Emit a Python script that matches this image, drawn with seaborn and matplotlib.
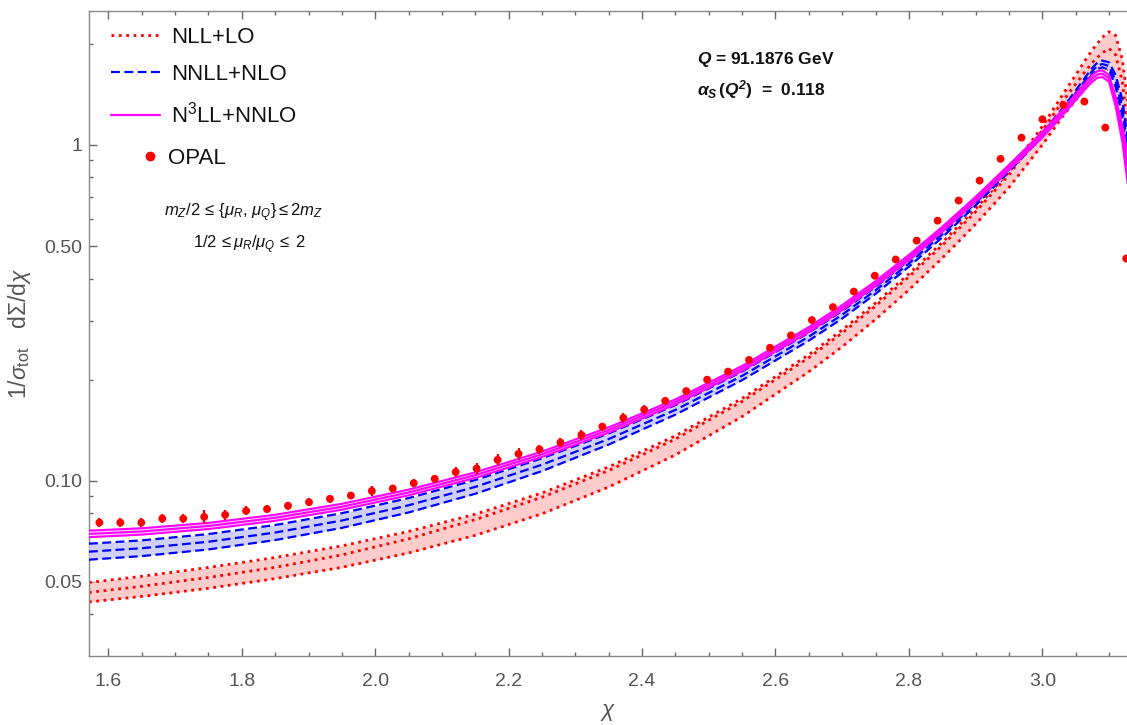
import numpy as np
import matplotlib
matplotlib.use("Agg")
import matplotlib.pyplot as plt
import seaborn as sns
from matplotlib.lines import Line2D
from matplotlib.ticker import FixedLocator, LogLocator, NullFormatter, MultipleLocator

# ---------------- data ----------------
chi_nodes = [1.5708, 1.65, 1.75, 1.85, 1.95, 2.05, 2.15, 2.25, 2.35, 2.45,
             2.55, 2.65, 2.70, 2.75, 2.80, 2.85, 2.90, 2.95, 3.00, 3.03,
             3.05, 3.065, 3.075, 3.083, 3.09, 3.10, 3.11, 3.12, 3.128]

# NLL+LO (red, dotted): upper / central / lower
nll_up = [0.04981, 0.05198, 0.05522, 0.05913, 0.06403, 0.07068, 0.07956, 0.09202, 0.11003, 0.13617,
          0.17592, 0.23746, 0.28132, 0.33846, 0.41334, 0.51264, 0.64551, 0.83176, 1.13501, 1.40605,
          1.61436, 1.79473, 1.91867, 2.00909, 2.08930, 2.17270, 2.11836, 1.79887, 1.34896]
nll_mid = [0.04651, 0.04853, 0.05156, 0.05525, 0.06017, 0.06719, 0.07668, 0.08931, 0.10727, 0.13307,
           0.17230, 0.23258, 0.27553, 0.33150, 0.40484, 0.50210, 0.63223, 0.81465, 1.10409, 1.34280,
           1.51711, 1.65963, 1.75799, 1.82396, 1.87938, 1.93645, 1.85349, 1.54529, 1.13501]
nll_lo = [0.04358, 0.04527, 0.04787, 0.05115, 0.05526, 0.06099, 0.06882, 0.07977, 0.09583, 0.11943,
          0.15535, 0.21115, 0.25073, 0.30236, 0.37008, 0.46005, 0.58065, 0.74644, 1.00000, 1.21065,
          1.35832, 1.47569, 1.55245, 1.60689, 1.65962, 1.68662, 1.57032, 1.27353, 0.93328]

# NNLL+NLO (blue, dashed)
nnll_up = [0.06498, 0.06649, 0.06942, 0.07386, 0.08011, 0.08884, 0.10057, 0.11668, 0.13833, 0.16804,
           0.21149, 0.27611, 0.32034, 0.37791, 0.45353, 0.55300, 0.68311, 0.85706, 1.08641, 1.28177,
           1.45141, 1.59519, 1.69627, 1.76199, 1.78239, 1.76206, 1.61434, 1.36464, 1.04711]
nnll_mid = [0.06152, 0.06300, 0.06586, 0.07015, 0.07617, 0.08457, 0.09594, 0.11169, 0.13318, 0.16264,
            0.20535, 0.26864, 0.31219, 0.36898, 0.44351, 0.54163, 0.67143, 0.84489, 1.07152, 1.26183,
            1.42561, 1.56315, 1.65959, 1.72187, 1.74181, 1.71791, 1.54882, 1.28825, 0.97724]
nnll_lo = [0.05824, 0.05969, 0.06248, 0.06662, 0.07243, 0.08050, 0.09152, 0.10691, 0.12822, 0.15741,
           0.19939, 0.26137, 0.30425, 0.36026, 0.43371, 0.53049, 0.65995, 0.83290, 1.05683, 1.24220,
           1.40026, 1.53175, 1.62370, 1.68266, 1.70215, 1.67486, 1.48596, 1.21613, 0.91203]

# N3LL+NNLO (magenta, solid)
n3ll_up = [0.07108, 0.07224, 0.07495, 0.07925, 0.08544, 0.09414, 0.10600, 0.12218, 0.14428, 0.17478,
           0.21981, 0.28681, 0.33342, 0.39309, 0.47034, 0.57045, 0.70063, 0.87165, 1.09145, 1.26915,
           1.41588, 1.53636, 1.61437, 1.65960, 1.66726, 1.61437, 1.39321, 1.14029, 0.93328]
n3ll_mid = [0.06950, 0.07068, 0.07338, 0.07762, 0.08372, 0.09231, 0.10399, 0.11995, 0.14171, 0.17179,
            0.21605, 0.28190, 0.32772, 0.38637, 0.46230, 0.56069, 0.68865, 0.85674, 1.07152, 1.24451,
            1.38676, 1.50314, 1.57761, 1.62181, 1.62930, 1.57761, 1.34896, 1.08393, 0.85114]
n3ll_lo = [0.06795, 0.06915, 0.07184, 0.07602, 0.08204, 0.09052, 0.10202, 0.11776, 0.13919, 0.16885,
           0.21236, 0.27708, 0.32212, 0.37976, 0.45439, 0.55110, 0.67687, 0.84209, 1.05195, 1.22035,
           1.35824, 1.47064, 1.54169, 1.58488, 1.59220, 1.54169, 1.30020, 1.02094, 0.76735]

# OPAL data
opal_chi = [1.5865, 1.6179, 1.6493, 1.6808, 1.7122, 1.7436, 1.7750, 1.8064, 1.8378, 1.8692,
            1.9007, 1.9321, 1.9635, 1.9949, 2.0263, 2.0577, 2.0892, 2.1206, 2.1520, 2.1834,
            2.2148, 2.2462, 2.2777, 2.3091, 2.3405, 2.3719, 2.4033, 2.4347, 2.4662, 2.4976,
            2.5290, 2.5604, 2.5918, 2.6232, 2.6546, 2.6861, 2.7175, 2.7489, 2.7803, 2.8117,
            2.8431, 2.8746, 2.9060, 2.9374, 2.9688, 3.0002, 3.0316, 3.0631, 3.0945, 3.1259]
opal_val = [0.0751, 0.0751, 0.0751, 0.0772, 0.0772, 0.0781, 0.0792, 0.0814, 0.0824, 0.0843,
            0.0864, 0.0884, 0.0904, 0.0933, 0.0949, 0.0984, 0.1014, 0.1062, 0.1088, 0.1155,
            0.1203, 0.1242, 0.1300, 0.1370, 0.1450, 0.1540, 0.1630, 0.1730, 0.1850, 0.2000,
            0.2115, 0.2290, 0.2490, 0.2710, 0.3010, 0.3290, 0.3660, 0.4080, 0.4560, 0.5190,
            0.5950, 0.6830, 0.7830, 0.9090, 1.0510, 1.1920, 1.3150, 1.3460, 1.1260, 0.4590]
opal_err = [0.0023, 0.0024, 0.0023, 0.0023, 0.0023, 0.0038, 0.0025, 0.0025, 0.0024, 0.0024,
            0.0022, 0.0025, 0.0024, 0.0030, 0.0025, 0.0027, 0.0030, 0.0035, 0.0040, 0.0044,
            0.0048, 0.0037, 0.0040, 0.0044, 0.0040, 0.0050, 0.0050, 0.0045, 0.0045, 0.0045,
            0.0045, 0.0050, 0.0050, 0.0050, 0.0060, 0.0060, 0.0070, 0.0070, 0.0080, 0.0090,
            0.0100, 0.0110, 0.0130, 0.0150, 0.0170, 0.0190, 0.0210, 0.0220, 0.0190, 0.0100]

legend_labels = ["NLL+LO", "NNLL+NLO", r"N$^{3}$LL+NNLO", "OPAL"]
yticks = [0.05, 0.10, 0.50, 1.0]
ytick_labels = ["0.05", "0.10", "0.50", "1"]

# ---------------- style ----------------
sns.set_theme(style="ticks")
plt.rcParams['font.family'] = ['Liberation Sans', 'DejaVu Sans']
plt.rcParams['mathtext.fontset'] = 'custom'
plt.rcParams['mathtext.rm'] = 'Liberation Sans'
plt.rcParams['mathtext.it'] = 'Liberation Sans:italic'
plt.rcParams['mathtext.bf'] = 'Liberation Sans:bold:italic'

RED = "#ff0000"
BLUE = "#0000ff"
MAG = "#ff00ff"
GRAY = "#666666"

fig = plt.figure(figsize=(11.27, 7.25), dpi=100)
ax = fig.add_axes([0.0789, 0.0952, 0.9211, 0.8897])
ax.set_yscale('log')

# bands
ax.fill_between(chi_nodes, nll_lo, nll_up, color="#ffcccc", lw=0, zorder=1)
for yv in (nll_up, nll_mid, nll_lo):
    sns.lineplot(x=chi_nodes, y=yv, ax=ax, color=RED, linestyle=':', lw=2.0,
                 estimator=None, sort=False, zorder=2)

ax.fill_between(chi_nodes, nnll_lo, nnll_up, color="#d0d0ff", lw=0, zorder=3)
for yv in (nnll_up, nnll_mid, nnll_lo):
    sns.lineplot(x=chi_nodes, y=yv, ax=ax, color=BLUE, lw=1.6,
                 estimator=None, sort=False, zorder=4)
for line in ax.get_lines()[-3:]:
    line.set_dashes((4, 2))

ax.fill_between(chi_nodes, n3ll_lo, n3ll_up, color="#ffd0ff", lw=0, zorder=5)
for yv in (n3ll_up, n3ll_mid, n3ll_lo):
    sns.lineplot(x=chi_nodes, y=yv, ax=ax, color=MAG, lw=1.5,
                 estimator=None, sort=False, zorder=6)

# OPAL points
ax.errorbar(opal_chi, opal_val, yerr=opal_err, fmt='none', ecolor=RED, elinewidth=1.6,
            capsize=0, zorder=7)
sns.scatterplot(x=opal_chi, y=opal_val, ax=ax, color=RED, s=32, edgecolor='none', zorder=8)

# axes
ax.set_xlim(np.pi / 2, 3.127)
ax.set_ylim(0.0301, 2.505)
ax.xaxis.set_major_locator(MultipleLocator(0.2))
ax.xaxis.set_minor_locator(MultipleLocator(0.05))
ax.yaxis.set_major_locator(FixedLocator(yticks))
ax.set_yticklabels(ytick_labels)
ax.yaxis.set_minor_locator(LogLocator(base=10, subs=np.arange(2, 10)))
ax.yaxis.set_minor_formatter(NullFormatter())

ax.tick_params(which='both', direction='in', top=True, right=False, colors=GRAY,
               labelcolor="#555555", labelsize=14, width=1.0)
ax.tick_params(which='major', length=6)
ax.tick_params(which='minor', length=3)
ax.tick_params(axis='y', pad=5)
ax.tick_params(axis='x', pad=12)
for side in ('left', 'bottom', 'top'):
    ax.spines[side].set_color("#888888")
    ax.spines[side].set_linewidth(1.0)
ax.spines['right'].set_visible(False)

ax.set_xlabel(r"$\chi$", fontsize=16, color="#555555", labelpad=9)
ax.set_ylabel(r"1/$\sigma_{\rm tot}$   d$\Sigma$/d$\chi$", fontsize=16.5, color="#555555",
              labelpad=8)

# legend: three theory curves
handles = [
    Line2D([], [], color=RED, linestyle=':', lw=2.0),
    Line2D([], [], color=BLUE, lw=1.6, dashes=(4, 2)),
    Line2D([], [], color=MAG, lw=1.6),
]
leg = ax.legend(handles, legend_labels[:3], loc='upper left', bbox_to_anchor=(0.006, 1.0),
                frameon=False, fontsize=16, handlelength=2.2, handletextpad=0.5,
                labelspacing=0.75, borderaxespad=0.3)
for t in leg.get_texts():
    t.set_color("#111111")
ax.add_artist(leg)

# legend: data
leg2 = ax.legend([Line2D([], [], color=RED, marker='o', markersize=6, linestyle='none')],
                 legend_labels[3:], loc='center left', bbox_to_anchor=(0.0395, 0.772),
                 frameon=False, fontsize=16, handlelength=1.0, handletextpad=0.3,
                 borderaxespad=0.0)
for t in leg2.get_texts():
    t.set_color("#111111")

# annotations
ax.text(0.586, 0.924, r"$\mathbf{Q}$ = 91.1876 GeV", transform=ax.transAxes,
        fontsize=12.5, fontweight='bold', va='center', ha='left', color='#111111')
ax.text(0.586, 0.8775, r"$\mathbf{\alpha_S}\,$($\mathbf{Q^2}$)  =  0.118", transform=ax.transAxes,
        fontsize=12.5, fontweight='bold', va='center', ha='left', color='#111111')
ax.text(0.1493, 0.6868, r"$m_Z/2\,\leq\,\{\mu_R,\,\mu_Q\}\leq 2m_Z$", transform=ax.transAxes,
        fontsize=12, va='center', ha='center', color='#111111')
ax.text(0.1551, 0.6372, r"1/2$\,\leq\mu_R/\mu_Q\,\leq$ 2", transform=ax.transAxes,
        fontsize=12, va='center', ha='center', color='#111111')

fig.savefig("out.png", dpi=100)
